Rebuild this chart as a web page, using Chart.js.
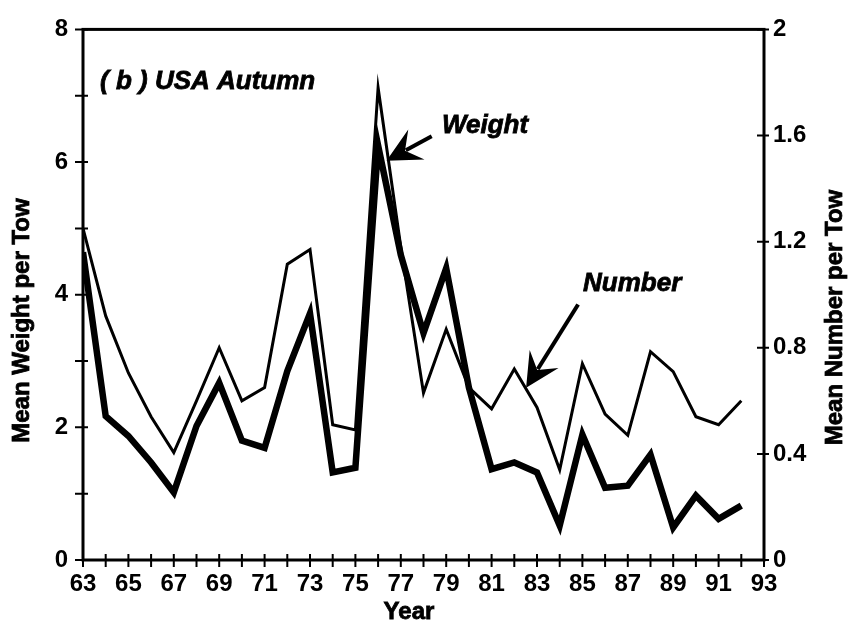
<!DOCTYPE html>
<html>
<head>
<meta charset="utf-8">
<script src="https://cdn.jsdelivr.net/npm/chart.js@4.4.1/dist/chart.umd.min.js"></script>
<style>
    html, body { margin: 0; padding: 0; background: #fff; }
    canvas { display: block; }
</style>
</head>
<body>
<canvas id="myChart" width="853" height="625"></canvas>
<script>
// survey years (19xx)
const years = [63, 64, 65, 66, 67, 68, 69, 70, 71, 72, 73, 74, 75, 76, 77,
               78, 79, 80, 81, 82, 83, 84, 85, 86, 87, 88, 89, 90, 91, 92];

// thick line, left axis
const meanWeight = [4.64, 2.17, 1.87, 1.47, 1.02, 2.02, 2.67, 1.80, 1.69, 2.85, 3.72, 1.32, 1.39, 6.25, 4.60,
                    3.42, 4.40, 2.60, 1.37, 1.47, 1.32, 0.52, 1.89, 1.09, 1.12, 1.59, 0.49, 0.97, 0.62, 0.82];

// thin line, right axis
const meanNumber = [1.25, 0.92, 0.705, 0.54, 0.405, 0.60, 0.80, 0.60, 0.65, 1.115, 1.17, 0.51, 0.49, 1.78, 1.18,
                    0.63, 0.87, 0.65, 0.57, 0.72, 0.575, 0.34, 0.74, 0.55, 0.47, 0.785, 0.71, 0.54, 0.51, 0.60];

const weightTicks = [0, 1, 2, 3, 4, 5, 6, 7, 8];
const numberTicks = [0, 0.4, 0.8, 1.2, 1.6, 2];

const FONT = "'Liberation Sans', Arial, Helvetica, sans-serif";

function toPoints(values) {
    return years.map(function (yr, i) {
        return { x: yr, y: values[i] };
    });
}

function drawArrow(ctx, x1, y1, x2, y2) {
    var ang = Math.atan2(y2 - y1, x2 - x1);
    var c = Math.cos(ang), s = Math.sin(ang);
    var len = 34, half = 17;
    ctx.lineWidth = 4;
    ctx.beginPath();
    ctx.moveTo(x1, y1);
    ctx.lineTo(x2 - c * 22, y2 - s * 22);
    ctx.stroke();
    ctx.beginPath();
    ctx.moveTo(x2, y2);
    ctx.lineTo(x2 - len * c + half * s, y2 - len * s - half * c);
    ctx.lineTo(x2 - 0.62 * len * c, y2 - 0.62 * len * s);
    ctx.lineTo(x2 - len * c - half * s, y2 - len * s + half * c);
    ctx.closePath();
    ctx.fill();
}

// heavier text, like the scanned original
function boldText(ctx, text, x, y) {
    ctx.lineWidth = 0.8;
    ctx.fillText(text, x, y);
    ctx.strokeText(text, x, y);
}

// frame, crossing tick marks, titles and arrows
const framePlugin = {
    id: 'frame',
    afterDraw(chart) {
        var ctx = chart.ctx;
        var a = chart.chartArea;
        var xs = chart.scales.x, yl = chart.scales.y, yr = chart.scales.y2;
        var py;
        ctx.save();
        ctx.strokeStyle = '#000';
        ctx.fillStyle = '#000';

        ctx.lineWidth = 3;
        ctx.lineCap = 'square';
        ctx.strokeRect(a.left, a.top, a.right - a.left, a.bottom - a.top);

        ctx.lineWidth = 2;
        ctx.lineCap = 'butt';
        ctx.beginPath();
        for (var yrs = xs.min; yrs <= xs.max; yrs++) {
            var px = xs.getPixelForValue(yrs);
            ctx.moveTo(px, a.bottom - 6);
            ctx.lineTo(px, a.bottom + 7);
        }
        weightTicks.forEach(function (w) {
            py = yl.getPixelForValue(w);
            ctx.moveTo(a.left - 8, py);
            ctx.lineTo(a.left + 5, py);
        });
        numberTicks.forEach(function (n) {
            py = yr.getPixelForValue(n);
            ctx.moveTo(a.right - 7, py);
            ctx.lineTo(a.right + 5, py);
        });
        ctx.stroke();

        // axis titles
        ctx.font = 'bold 24px ' + FONT;
        ctx.textAlign = 'center';
        ctx.textBaseline = 'alphabetic';
        boldText(ctx, 'Year', xs.getPixelForValue(77.36), a.bottom + 59);

        ctx.save();
        ctx.translate(a.left - 54, yl.getPixelForValue(3.61));
        ctx.rotate(-Math.PI / 2);
        boldText(ctx, 'Mean Weight per Tow', 0, 0);
        ctx.restore();

        ctx.save();
        ctx.translate(a.right + 78, yr.getPixelForValue(0.914));
        ctx.rotate(-Math.PI / 2);
        boldText(ctx, 'Mean Number per Tow', 0, 0);
        ctx.restore();

        // labels in the plot
        ctx.font = 'italic bold 26px ' + FONT;
        ctx.textAlign = 'left';
        ctx.textBaseline = 'middle';
        boldText(ctx, '( b ) USA Autumn', xs.getPixelForValue(63.75), yl.getPixelForValue(7.21));
        boldText(ctx, 'Weight', xs.getPixelForValue(78.81), yl.getPixelForValue(6.55));
        boldText(ctx, 'Number', xs.getPixelForValue(85.03), yr.getPixelForValue(1.04));

        drawArrow(ctx, xs.getPixelForValue(78.36), yl.getPixelForValue(6.39),
                       xs.getPixelForValue(76.37), yl.getPixelForValue(6.02));
        drawArrow(ctx, xs.getPixelForValue(84.81), yr.getPixelForValue(0.963),
                       xs.getPixelForValue(82.52), yr.getPixelForValue(0.649));
        ctx.restore();
    }
};

var ctx = document.getElementById('myChart').getContext('2d');
var myChart = new Chart(ctx, {
    type: 'line',
    data: {
        datasets: [
            {
                label: 'Weight',
                data: toPoints(meanWeight),
                yAxisID: 'y',
                borderColor: '#000',
                borderWidth: 6.5,
                borderJoinStyle: 'miter',
                pointRadius: 0,
                tension: 0
            },
            {
                label: 'Number',
                data: toPoints(meanNumber),
                yAxisID: 'y2',
                borderColor: '#000',
                borderWidth: 3,
                borderJoinStyle: 'miter',
                pointRadius: 0,
                tension: 0
            }
        ]
    },
    options: {
        responsive: false,
        animation: false,
        layout: { padding: { top: 24, left: 0, right: 0, bottom: 0 } },
        plugins: {
            legend: { display: false },
            tooltip: { enabled: false }
        },
        scales: {
            x: {
                type: 'linear',
                min: 63,
                max: 93,
                grid: { display: false, drawTicks: false },
                border: { display: false },
                afterFit: function (s) { s.height = 65; },
                ticks: {
                    stepSize: 2,
                    autoSkip: false,
                    maxRotation: 0,
                    padding: 10,
                    color: '#000',
                    font: { family: FONT, size: 24, weight: 'bold' }
                }
            },
            y: {
                position: 'left',
                min: 0,
                max: 8,
                grid: { display: false, drawTicks: false },
                border: { display: false },
                afterFit: function (s) { s.width = 83; },
                ticks: {
                    stepSize: 2,
                    padding: 15,
                    color: '#000',
                    font: { family: FONT, size: 24, weight: 'bold' }
                }
            },
            y2: {
                position: 'right',
                min: 0,
                max: 2,
                grid: { display: false, drawTicks: false },
                border: { display: false },
                afterFit: function (s) { s.width = 89; },
                ticks: {
                    stepSize: 0.4,
                    padding: 9,
                    color: '#000',
                    font: { family: FONT, size: 24, weight: 'bold' },
                    callback: function (v) { return String(Math.round(v * 10) / 10); }
                }
            }
        }
    },
    plugins: [framePlugin]
});
</script>
</body>
</html>
